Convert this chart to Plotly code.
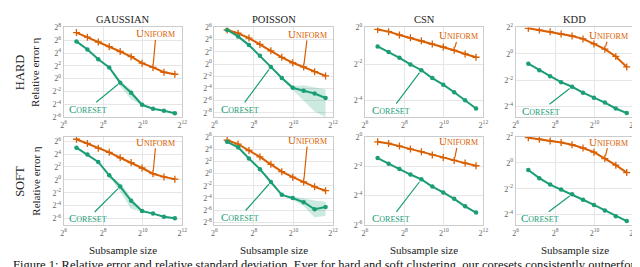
import numpy as np
import plotly.graph_objects as go

# ---------------- data ----------------
sizes = [100, 147, 215, 316, 464, 681, 1000, 1468, 2154, 3162]

datasets = ["GAUSSIAN", "POISSON", "CSN", "KDD"]
modes = ["HARD", "SOFT"]

# log2 of relative error eta
gauss_hard_uniform = [7.19, 6.48, 5.72, 5.0, 4.24, 3.43, 2.42, 1.76, 1.0, 0.69]
gauss_hard_coreset = [5.82, 4.55, 3.03, 1.76, -0.63, -2.2, -4.08, -4.69, -5.0, -5.4]
gauss_hard_lo = [5.82, 4.55, 3.03, 1.66, -1.2, -3.2, -4.2, -4.75, -5.05, -5.45]
gauss_hard_hi = [5.82, 4.55, 3.03, 1.86, -0.3, -1.7, -3.95, -4.63, -4.95, -5.35]

poisson_hard_uniform = [5.58, 5.05, 4.26, 3.21, 2.16, 1.1, 0.21, -0.47, -1.26, -1.95]
poisson_hard_coreset = [5.58, 4.53, 3.1, 1.37, -0.47, -2.3, -3.9, -4.4, -4.84, -5.58]
poisson_hard_lo = [5.58, 4.53, 3.1, 1.3, -0.6, -2.5, -4.3, -6.0, -7.8, -8.7]
poisson_hard_hi = [5.58, 4.53, 3.1, 1.44, -0.35, -2.1, -3.6, -3.5, -3.9, -4.2]

csn_hard_uniform = [-0.11, -0.23, -0.41, -0.57, -0.73, -0.91, -1.07, -1.25, -1.45, -1.63]
csn_hard_coreset = [-1.04, -1.34, -1.66, -2.02, -2.34, -2.77, -3.13, -3.54, -3.98, -4.43]

kdd_hard_uniform = [1.93, 1.8, 1.68, 1.5, 1.35, 1.13, 0.75, 0.35, -0.2, -1.0]
kdd_hard_coreset = [-0.75, -1.25, -1.7, -2.15, -2.5, -2.95, -3.33, -3.7, -4.15, -4.5]

gauss_soft_uniform = [6.3, 5.65, 4.91, 4.27, 3.43, 2.68, 1.84, 0.95, 0.46, 0.11]
gauss_soft_coreset = [5.0, 3.92, 2.78, 0.7, -1.03, -3.26, -4.84, -5.24, -5.73, -5.98]
gauss_soft_lo = [5.0, 3.92, 2.78, 0.6, -1.8, -4.5, -5.0, -5.3, -5.78, -6.03]
gauss_soft_hi = [5.0, 3.92, 2.78, 0.8, -0.5, -2.76, -4.7, -5.18, -5.68, -5.93]

poisson_soft_uniform = [5.47, 4.84, 3.79, 2.74, 1.53, 0.32, -0.58, -1.37, -2.16, -2.79]
poisson_soft_coreset = [5.21, 4.32, 2.47, 0.74, -1.37, -3.47, -4.0, -4.68, -5.84, -5.47]
poisson_soft_lo = [5.21, 4.32, 2.47, 0.7, -1.45, -3.6, -4.3, -5.3, -7.2, -6.9]
poisson_soft_hi = [5.21, 4.32, 2.47, 0.78, -1.3, -3.35, -3.7, -4.1, -4.4, -4.6]

csn_soft_uniform = [-0.33, -0.44, -0.62, -0.82, -1.0, -1.22, -1.4, -1.6, -1.78, -1.96]
csn_soft_coreset = [-1.44, -1.82, -2.18, -2.56, -2.89, -3.38, -3.78, -4.22, -4.73, -5.16]

kdd_soft_uniform = [1.95, 1.83, 1.7, 1.58, 1.4, 1.15, 0.83, 0.33, -0.18, -0.75]
kdd_soft_coreset = [-0.55, -1.18, -1.68, -2.05, -2.43, -2.85, -3.25, -3.68, -4.13, -4.5]

# y-axis range (log2) and tick exponents per panel
y_ranges = {
    ("HARD", "GAUSSIAN"): (-6, 8, [-6, -4, -2, 0, 2, 4, 6, 8]),
    ("HARD", "POISSON"): (-8.7, 6, [-8, -6, -4, -2, 0, 2, 4, 6]),
    ("HARD", "CSN"): (-4.9, 0, [-4, -2, 0]),
    ("HARD", "KDD"): (-4.8, 2, [-4, -2, 0, 2]),
    ("SOFT", "GAUSSIAN"): (-7, 6.65, [-6, -4, -2, 0, 2, 4, 6]),
    ("SOFT", "POISSON"): (-8.4, 6, [-8, -6, -4, -2, 0, 2, 4, 6]),
    ("SOFT", "CSN"): (-6, 0, [-6, -4, -2, 0]),
    ("SOFT", "KDD"): (-4.8, 2, [-4, -2, 0, 2]),
}
x_tick_exps = [6, 8, 10, 12]

panels = {
    ("HARD", "GAUSSIAN"): (gauss_hard_uniform, gauss_hard_coreset, gauss_hard_lo, gauss_hard_hi),
    ("HARD", "POISSON"): (poisson_hard_uniform, poisson_hard_coreset, poisson_hard_lo, poisson_hard_hi),
    ("HARD", "CSN"): (csn_hard_uniform, csn_hard_coreset, None, None),
    ("HARD", "KDD"): (kdd_hard_uniform, kdd_hard_coreset, None, None),
    ("SOFT", "GAUSSIAN"): (gauss_soft_uniform, gauss_soft_coreset, gauss_soft_lo, gauss_soft_hi),
    ("SOFT", "POISSON"): (poisson_soft_uniform, poisson_soft_coreset, poisson_soft_lo, poisson_soft_hi),
    ("SOFT", "CSN"): (csn_soft_uniform, csn_soft_coreset, None, None),
    ("SOFT", "KDD"): (kdd_soft_uniform, kdd_soft_coreset, None, None),
}

# label offsets (px): (uniform ax, ay, coreset ax, ay)
label_offsets = {
    ("HARD", "GAUSSIAN"): (3, -34, -32, 26),
    ("HARD", "POISSON"): (4, -33, -31, 42),
    ("HARD", "CSN"): (4, -15, -30, 40),
    ("HARD", "KDD"): (4, -14, -31, 24),
    ("SOFT", "GAUSSIAN"): (3, -32, -32, 32),
    ("SOFT", "POISSON"): (4, -42, -31, 35),
    ("SOFT", "CSN"): (4, -19, -30, 39),
    ("SOFT", "KDD"): (4, -17, -32, 24),
}

# ---------------- styling / layout ----------------
W, H = 640, 267
ORANGE = "#d95f02"
TEAL = "#1b9e77"
BAND = "rgba(27,158,119,0.22)"
SERIF = "'Liberation Serif', 'DejaVu Serif', 'Times New Roman', serif"
GRID = "#e6e6e6"
FRAME = "#cccccc"

col_px = [(53.4, 173.4), (206, 326), (358.4, 478.4), (511, 631)]
row_px = [(14, 107.5), (128.3, 220)]

L2 = np.log10(2)
fig = go.Figure()
annotations = []

def sc(big, small):
    return f"{big}<span style='font-size:8px'>{small}</span>"

idx = 0
for r, mode in enumerate(modes):
    for c, ds in enumerate(datasets):
        idx += 1
        xa = "x" if idx == 1 else f"x{idx}"
        ya = "y" if idx == 1 else f"y{idx}"
        uni, cor, lo, hi = panels[(mode, ds)]
        uni_v = 2.0 ** np.array(uni)
        cor_v = 2.0 ** np.array(cor)
        if lo is not None:
            fig.add_trace(go.Scatter(x=sizes, y=2.0 ** np.array(hi), mode="lines",
                                     line=dict(width=0), xaxis=xa, yaxis=ya,
                                     showlegend=False, hoverinfo="skip"))
            fig.add_trace(go.Scatter(x=sizes, y=2.0 ** np.array(lo), mode="lines",
                                     line=dict(width=0), fill="tonexty", fillcolor=BAND,
                                     xaxis=xa, yaxis=ya, showlegend=False, hoverinfo="skip"))
        fig.add_trace(go.Scatter(x=sizes, y=uni_v, mode="lines+markers",
                                 line=dict(color=ORANGE, width=2),
                                 marker=dict(symbol="cross-thin", size=5,
                                             line=dict(color=ORANGE, width=1.3)),
                                 xaxis=xa, yaxis=ya, showlegend=False))
        fig.add_trace(go.Scatter(x=sizes, y=cor_v, mode="lines+markers",
                                 line=dict(color=TEAL, width=2),
                                 marker=dict(symbol="circle", size=4.5, color=TEAL),
                                 xaxis=xa, yaxis=ya, showlegend=False))

        x0, x1 = col_px[c]
        y0, y1 = row_px[r]
        ylo, yhi, yt = y_ranges[(mode, ds)]
        xkey = "xaxis" if idx == 1 else f"xaxis{idx}"
        ykey = "yaxis" if idx == 1 else f"yaxis{idx}"
        fig.layout[xkey] = dict(
            domain=[x0 / W, x1 / W], anchor=ya, type="log",
            range=[6 * L2, 12 * L2],
            tickvals=[2 ** e for e in x_tick_exps],
            ticktext=[f"2<sup>{e}</sup>" for e in x_tick_exps],
            showgrid=True, gridcolor=GRID, gridwidth=1,
            showline=True, linecolor=FRAME, linewidth=1, mirror=True,
            ticks="", ticklen=0, zeroline=False,
            tickfont=dict(family=SERIF, size=8, color="#666666"),
        )
        fig.layout[ykey] = dict(
            domain=[1 - y1 / H, 1 - y0 / H], anchor=xa, type="log",
            range=[ylo * L2, yhi * L2],
            tickvals=[2.0 ** e for e in yt],
            ticktext=[f"2<sup>{e}</sup>" for e in yt],
            showgrid=True, gridcolor=GRID, gridwidth=1,
            showline=True, linecolor=FRAME, linewidth=1, mirror=True,
            ticks="", ticklen=0, zeroline=False,
            tickfont=dict(family=SERIF, size=8, color="#666666"),
        )

        uax, uay, cax, cay = label_offsets[(mode, ds)]
        annotations.append(dict(
            x=np.log10(sizes[7]), y=np.log10(uni_v[7]), xref=xa, yref=ya,
            text=sc("U", "NIFORM"), showarrow=True, arrowhead=0, arrowwidth=1.2,
            arrowcolor=ORANGE, ax=uax, ay=uay, standoff=3, borderpad=0,
            font=dict(family=SERIF, size=11, color=ORANGE)))
        annotations.append(dict(
            x=np.log10(sizes[4]), y=np.log10(cor_v[4]), xref=xa, yref=ya,
            text=sc("C", "ORESET"), showarrow=True, arrowhead=0, arrowwidth=1.2,
            arrowcolor=TEAL, ax=cax, ay=cay, standoff=3, borderpad=0,
            font=dict(family=SERIF, size=11, color=TEAL)))

        if r == 0:
            annotations.append(dict(
                x=(x0 + x1) / 2 / W, y=1 - 6 / H, xref="paper", yref="paper",
                text=ds, showarrow=False, xanchor="center", yanchor="middle",
                font=dict(family=SERIF, size=10.5, color="#222222")))
        else:
            annotations.append(dict(
                x=(x0 + x1) / 2 / W, y=1 - 246 / H, xref="paper", yref="paper",
                text="Subsample size", showarrow=False, xanchor="center", yanchor="middle",
                font=dict(family=SERIF, size=11, color="#222222")))

    yc = (row_px[r][0] + row_px[r][1]) / 2
    annotations.append(dict(
        x=9 / W, y=1 - yc / H, xref="paper", yref="paper", text=mode, textangle=-90,
        showarrow=False, xanchor="center", yanchor="middle",
        font=dict(family=SERIF, size=12.5, color="#222222")))
    annotations.append(dict(
        x=25 / W, y=1 - yc / H, xref="paper", yref="paper", text="Relative error η",
        textangle=-90, showarrow=False, xanchor="center", yanchor="middle",
        font=dict(family=SERIF, size=11, color="#222222")))

annotations.append(dict(
    x=0, y=1 - 262 / H, xref="paper", yref="paper",
    text="Figure 1: Relative error and relative standard deviation. Ever for hard and soft clustering, our coresets consistently outperform uniform samples of",
    showarrow=False, xanchor="left", yanchor="middle",
    font=dict(family=SERIF, size=12.5, color="#111111")))

fig.update_layout(
    width=W, height=H, margin=dict(l=0, r=0, t=0, b=0),
    paper_bgcolor="white", plot_bgcolor="white",
    showlegend=False, annotations=annotations,
)

fig.write_html("out.html")
